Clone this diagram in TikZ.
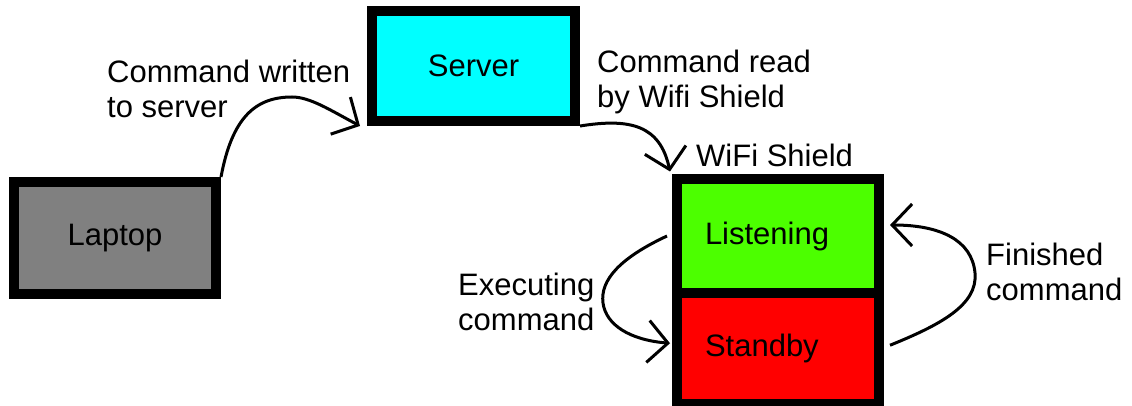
\documentclass[tikz,border=0pt]{standalone}
\usepackage{fontspec}
\setmainfont{Liberation Sans}
\usetikzlibrary{arrows.meta}

\definecolor{laptopgray}{HTML}{808080}
\definecolor{servercyan}{HTML}{00FFFF}
\definecolor{listengreen}{HTML}{4CFF00}
\definecolor{standbyred}{HTML}{FF0000}

\tikzset{
  box/.style={draw=black, line width=10pt, inner sep=0pt},
  statebox/.style={box, minimum width=202pt, text width=146pt, align=left},
  % multi-line labels: the base anchor sits on the last line
  lbl/.style={inner sep=0pt, anchor=base west, align=left},
  flow/.style={line width=3pt, -{Straight Barb[length=20pt, width=42pt]}},
}

\begin{document}
\begin{tikzpicture}[x=1pt, y=-1pt, font=\fontsize{31}{35}\selectfont]
  \path[use as bounding box, fill=white] (0,0) rectangle (1132,406);

  % devices
  \node[box, fill=laptopgray, minimum width=202pt, minimum height=112pt]
    (laptop) at (115,238) {Laptop};
  \node[box, fill=servercyan, minimum width=203pt, minimum height=110pt]
    (server) at (473.5,66) {Server};

  % the two states of the WiFi shield, stacked
  \node[statebox, fill=listengreen, minimum height=113pt]
    (listening) at (778,236) {Listening};
  \node[statebox, fill=standbyred, minimum height=111.5pt]
    (standby) at (778,348.25) {Standby};

  % labels
  \node[lbl] (lwrite) at (107,118) {Command written\\to server};
  \node[lbl] (lread) at (597,108) {Command read\\by Wifi Shield};
  \node[lbl] (lshield) at (696,167) {WiFi Shield};
  \node[lbl] (lexec) at (458,330) {Executing\\command};
  \node[lbl] (lfin) at (986,300) {Finished\\command};

  % connectors
  \draw[flow] (laptop.north east)
    .. controls (232,118) and (255,97) .. (292,97)
    .. controls (310,97) and (330,110) .. ([xshift=-7pt]server.south west);
  \draw[flow] (server.south east)
    .. controls (630,118) and (660,125) .. ([shift={(-2pt,3pt)}]listening.north west);
  \draw[flow] ([xshift=-5pt]listening.west)
    .. controls (620,258) and (600,280) .. (603,303)
    .. controls (606,325) and (630,340) .. ([shift={(-2pt,5pt)}]standby.west);
  \draw[flow] ([shift={(6pt,3pt)}]standby.east)
    .. controls (940,325) and (978,305) .. (975,273)
    .. controls (972,240) and (940,225) .. ([shift={(6pt,11pt)}]listening.east);
\end{tikzpicture}
\end{document}
